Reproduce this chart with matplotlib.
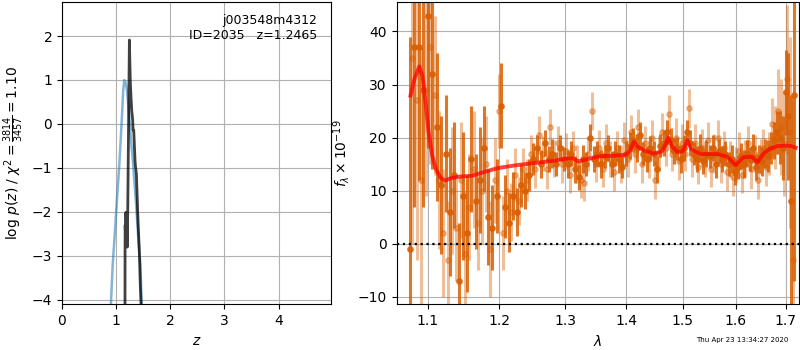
import matplotlib
matplotlib.use('Agg')
import matplotlib.pyplot as plt
from matplotlib.ticker import NullLocator

# left panel: redshift curves
z_prior = [0.88, 0.906, 0.937, 0.97, 0.998, 1.03, 1.06, 1.085, 1.11, 1.13, 1.15, 1.175,
           1.20, 1.24, 1.28, 1.31, 1.336, 1.37, 1.40, 1.425, 1.447, 1.47, 1.49]
lnp_prior = [-4.6, -4.02, -3.19, -2.6, -2.05, -1.45, -0.90, -0.35, 0.24, 0.75, 1.0, 0.95,
             0.77, 0.2, -0.45, -0.85, -1.29, -1.85, -2.43, -2.85, -3.18, -4.02, -4.6]

z_chi = [1.163, 1.165, 1.167, 1.176, 1.180, 1.189, 1.195, 1.205, 1.214, 1.245, 1.250, 1.263,
         1.275, 1.288, 1.306, 1.312, 1.325, 1.349, 1.356, 1.374, 1.399, 1.43, 1.448, 1.47, 1.48]
lnp_chi = [-5.0, -2.81, -2.3, -2.7, -2.01, -2.6, -2.2, -2.8, -2.01, 1.91, 1.6, 0.92,
           0.6, 0.31, 0.08, -0.14, -0.14, -0.83, -0.95, -1.13, -2.04, -2.95, -3.72, -4.4, -5.0]

z_ticks = [0, 1, 2, 3, 4]
lnp_ticks = [-4, -3, -2, -1, 0, 1, 2]

# right panel: spectrum, two orientations
wave_a = [1.076, 1.082, 1.088, 1.094, 1.100, 1.106, 1.112, 1.118, 1.124, 1.130, 1.136, 1.142,
          1.148, 1.154, 1.160, 1.166, 1.172, 1.178, 1.184, 1.190, 1.196, 1.202, 1.208, 1.214,
          1.220, 1.226, 1.232, 1.238, 1.244, 1.250, 1.256, 1.262, 1.268, 1.274, 1.280, 1.286,
          1.292, 1.298, 1.304, 1.310, 1.316, 1.322, 1.328, 1.334, 1.340, 1.346, 1.352, 1.358,
          1.364, 1.370, 1.376, 1.382, 1.388, 1.394, 1.400, 1.406, 1.412, 1.418, 1.424, 1.430,
          1.436, 1.442, 1.448, 1.454, 1.460, 1.466, 1.472, 1.478, 1.484, 1.490, 1.496, 1.502,
          1.508, 1.514, 1.520, 1.526, 1.532, 1.538, 1.544, 1.550, 1.556, 1.562, 1.568, 1.574,
          1.580, 1.586, 1.592, 1.598, 1.604, 1.610, 1.616, 1.622, 1.628, 1.634, 1.640, 1.646,
          1.652, 1.658, 1.664, 1.670, 1.676, 1.682, 1.688, 1.694, 1.700, 1.706, 1.712, 1.718]
flux_a = [-1, 37, 37, 29, 43, 32, 22, 11, 17, 6, 13, -7,
          9, 2, 16, 8, 12, 18, 5, 3, 9, 26, 7, 4,
          9, 6, 11, 10, 13, 16, 18, 15, 19, 16, 17, 15,
          18, 16, 15, 17, 14, 12.5, 16, 15, 20, 16, 17, 15,
          16.5, 18, 15, 17, 16, 14.5, 17, 18.5, 19.5, 18, 20.5, 17,
          16, 18, 17, 14, 18.5, 19, 21, 19.5, 17.5, 18, 16, 18,
          21, 19, 17, 16, 18, 15.5, 17, 16.5, 18, 15, 17.5, 16,
          17, 15, 16, 13.5, 14.5, 16.5, 15, 17, 16, 18, 14.5, 16,
          15.5, 17, 16.5, 18, 19.5, 21, 20, 18, 28.5, 24, 8, 28]
err_a = [40, 30, 25, 22, 25, 18, 14, 13, 11, 12, 10, 11,
         12, 11, 10, 9, 10, 8, 9, 8, 7, 8, 6, 5.5,
         4.5, 4.5, 4, 3.5, 3, 3, 2.5, 2.6, 2.4, 2.5, 2.7, 2.3,
         2.5, 2.2, 2.6, 2.4, 2.5, 2.3, 2.6, 2.2, 2.5, 2.4, 2.3, 2.6,
         2.2, 2.5, 2.4, 2.3, 2.6, 2.2, 2.4, 2.5, 2.3, 2.6, 2.4, 2.2,
         2.5, 2.3, 2.4, 2.6, 2.2, 2.5, 2.4, 2.3, 2.5, 2.2, 2.6, 2.4,
         2.3, 2.5, 2.2, 2.4, 2.6, 2.3, 2.5, 2.2, 2.4, 2.6, 2.3, 2.5,
         2.4, 2.2, 2.6, 2.5, 2.3, 2.4, 2.6, 2.5, 2.3, 2.7, 2.5, 2.6,
         2.8, 2.7, 3, 3, 3.5, 4, 5, 6, 8, 12, 20, 35]

wave_b = [1.079, 1.085, 1.091, 1.097, 1.103, 1.109, 1.115, 1.121, 1.127, 1.133, 1.139, 1.145,
          1.151, 1.157, 1.163, 1.169, 1.175, 1.181, 1.187, 1.193, 1.199, 1.205, 1.211, 1.217,
          1.223, 1.229, 1.235, 1.241, 1.247, 1.253, 1.259, 1.265, 1.271, 1.277, 1.283, 1.289,
          1.295, 1.301, 1.307, 1.313, 1.319, 1.325, 1.331, 1.337, 1.343, 1.349, 1.355, 1.361,
          1.367, 1.373, 1.379, 1.385, 1.391, 1.397, 1.403, 1.409, 1.415, 1.421, 1.427, 1.433,
          1.439, 1.445, 1.451, 1.457, 1.463, 1.469, 1.475, 1.481, 1.487, 1.493, 1.499, 1.505,
          1.511, 1.517, 1.523, 1.529, 1.535, 1.541, 1.547, 1.553, 1.559, 1.565, 1.571, 1.577,
          1.583, 1.589, 1.595, 1.601, 1.607, 1.613, 1.619, 1.625, 1.631, 1.637, 1.643, 1.649,
          1.655, 1.661, 1.667, 1.673, 1.679, 1.685, 1.691, 1.697, 1.703, 1.709, 1.715]
flux_b = [35, 27, 12, 29, 37, 28, 12, 2, -3, 10, 3, 12,
          -2, 7, 14, 4, 10, 15, -1, 12, 25, 2, 10, 6,
          13, 8, 14, 12, 17, 14, 20.5, 17, 14, 22, 16, 19,
          15, 17.5, 13, 18, 15, 12, 11.5, 17, 25, 15, 18, 14,
          19, 16, 13.5, 18, 15, 19.5, 16, 21, 17, 22, 15, 19,
          16, 20, 12, 17, 21, 18, 24.5, 17, 20, 15.5, 19, 17,
          25.5, 16, 19, 14.5, 18, 16, 19.5, 14, 17, 20, 15, 18,
          13.5, 16, 12.5, 15, 17.5, 13, 16, 19, 14, 17, 12, 16.5,
          18, 14.5, 17, 22.5, 20, 25, 22, 19, 31, 21, -3]
err_b = [35, 30, 25, 20, 22, 15, 13, 12, 11, 12, 10, 11,
         12, 10, 11, 9, 10, 9, 9, 8, 7, 7, 6, 5.5,
         5, 4.5, 4, 4, 3.5, 3.5, 3.5, 3.3, 3.6, 3.4, 3.5, 3.2,
         3.6, 3.4, 3.5, 3.3, 3.6, 3.4, 3.5, 3.2, 3.6, 3.4, 3.5, 3.3,
         3.6, 3.4, 3.5, 3.2, 3.6, 3.4, 3.5, 3.3, 3.6, 3.4, 3.5, 3.2,
         3.6, 3.4, 3.5, 3.3, 3.6, 3.4, 3.5, 3.2, 3.6, 3.4, 3.5, 3.3,
         3.6, 3.4, 3.5, 3.2, 3.6, 3.4, 3.5, 3.3, 3.6, 3.4, 3.5, 3.2,
         3.6, 3.4, 3.5, 3.3, 3.6, 3.4, 3.5, 3.2, 3.6, 3.4, 3.5, 3.3,
         3.6, 3.6, 4, 5, 6, 8, 9, 10, 14, 18, 30]

# best-fit model
wave_m = [1.077, 1.082, 1.0886, 1.093, 1.097, 1.101, 1.106, 1.111, 1.117, 1.123, 1.130, 1.140,
          1.148, 1.160, 1.170, 1.180, 1.196, 1.202, 1.225, 1.2515, 1.280, 1.3031, 1.312, 1.3218,
          1.3407, 1.357, 1.380, 1.400, 1.407, 1.4134, 1.420, 1.4307, 1.4482, 1.462, 1.468, 1.474,
          1.480, 1.4906, 1.500, 1.5085, 1.516, 1.533, 1.5647, 1.5833, 1.592, 1.5996, 1.607, 1.6152,
          1.632, 1.6427, 1.655, 1.668, 1.683, 1.700, 1.712, 1.721]
flux_m = [27.9, 31.0, 33.4, 31.5, 26.5, 21.0, 16.5, 14.0, 12.5, 11.9, 12.3, 12.6,
          12.7, 12.8, 13.2, 13.6, 14.2, 14.35, 14.8, 15.2, 15.6, 16.05, 16.1, 15.5,
          16.1, 16.5, 16.6, 16.8, 17.6, 19.2, 18.3, 17.6, 17.0, 17.4, 18.4, 20.0,
          18.4, 17.3, 17.4, 19.5, 17.8, 16.9, 16.9, 16.4, 15.6, 14.8, 15.5, 16.3,
          16.4, 15.3, 17.0, 17.9, 18.4, 18.5, 18.4, 18.1]

wave_ticks = [1.1, 1.2, 1.3, 1.4, 1.5, 1.6, 1.7]
wave_labels = ['1.1', '1.2', '1.3', '1.4', '1.5', '1.6', '1.7']
flux_ticks = [-10, 0, 10, 20, 30, 40]

spec_color = '#d95f02'

fig = plt.figure(figsize=(8, 3.5), dpi=100)

# panel p(z)
ax1 = fig.add_axes([0.0775, 0.1306, 0.3363, 0.8645])
ax1.plot(z_prior, lnp_prior, color='tab:blue', alpha=0.55, lw=1.8)
ax1.plot(z_chi, lnp_chi, color='k', alpha=0.75, lw=2)
ax1.set_xlim(0, 4.97)
ax1.set_ylim(-4.1, 2.78)
ax1.set_xticks(z_ticks)
ax1.set_yticks(lnp_ticks)
ax1.grid()
ax1.set_xlabel(r'$z$')
ax1.set_ylabel(r'log $p(z)$ / $\chi^2=\frac{3814}{3457}=1.10$')
ax1.text(0.948, 0.96, 'j003548m4312\nID=2035   z=1.2465', ha='right', va='top',
         transform=ax1.transAxes, fontsize=9)

# panel spectrum
ax2 = fig.add_axes([0.4958, 0.1306, 0.5029, 0.8645])
ax2.errorbar(wave_b, flux_b, err_b, marker='o', ms=3.8, linestyle='none',
             color=spec_color, alpha=0.4, elinewidth=2.2, capsize=0)
ax2.errorbar(wave_a, flux_a, err_a, marker='o', ms=3.8, linestyle='none',
             color=spec_color, alpha=0.85, elinewidth=2.2, capsize=0)
ax2.plot(wave_m, flux_m, color='r', alpha=0.75, lw=2.8, zorder=10)
ax2.axhline(0, color='k', linestyle=':', lw=1.6, zorder=11)
ax2.set_xscale('log')
ax2.set_xlim(1.059, 1.728)
ax2.set_ylim(-11.4, 45.6)
ax2.set_xticks(wave_ticks)
ax2.set_xticklabels(wave_labels)
ax2.xaxis.set_minor_locator(NullLocator())
ax2.set_yticks(flux_ticks)
ax2.grid()
ax2.set_xlabel(r'$\lambda$')
ax2.set_ylabel(r'$f_\lambda \times 10^{-19}$')

fig.text(0.985, 0.029, 'Thu Apr 23 13:34:27 2020', ha='right', va='center', fontsize=5)

fig.savefig('out.png', dpi=100)
